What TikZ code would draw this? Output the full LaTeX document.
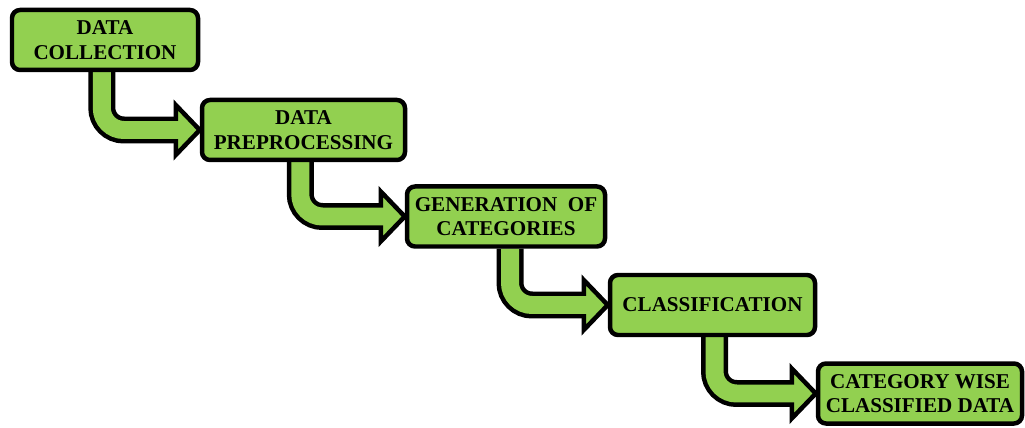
\documentclass[tikz,border=0pt]{standalone}
\usepackage{fontspec}
\setmainfont{Liberation Serif}
\usepackage{xcolor}
\usepackage{tikz}
\usetikzlibrary{positioning,calc,backgrounds}
\definecolor{leafgreen}{HTML}{92D050}

\begin{document}
\begin{tikzpicture}[
  stage/.style={draw=black, fill=leafgreen, line width=3.2pt, rounded corners=0.2cm,
    minimum height=1.5cm, align=center, inner sep=2pt,
    font=\fontsize{15}{17.5}\selectfont\bfseries},
  shaftout/.style={draw=black, line width=19.2pt, rounded corners=0.55cm},
  shaftin/.style={draw=leafgreen, line width=12.8pt, rounded corners=0.55cm},
  headtri/.style={draw=black, fill=leafgreen, line width=3.2pt}
]
\useasboundingbox (0,0) rectangle (25.625,10.675);

% stages
\node[stage, minimum width=4.65cm] (collect) at (2.625,9.675) {DATA\\COLLECTION};
\node[stage, minimum width=5.075cm] (prep) at (7.5875,7.425) {DATA\\PREPROCESSING};
\node[stage, minimum width=4.95cm] (gencat) at (12.65,5.2625) {GENERATION\ \ OF\\CATEGORIES};
\node[stage, minimum width=5.125cm] (classify) at (17.8125,3.05) {CLASSIFICATION};
\node[stage, minimum width=5.1cm] (result) at (23.0,0.8375) {CATEGORY WISE\\CLASSIFIED DATA};

% bent arrows between stages
\begin{scope}[on background layer]
% collection -> preprocessing
\draw[shaftout] ([xshift=-0.08cm]collect.south) |- ($(prep.west)+(-0.6,0)$);
\draw[headtri] ($(prep.west)+(-0.6,0.625)$) -- (prep.west) -- ($(prep.west)+(-0.6,-0.625)$) -- cycle;
\draw[shaftin] ([xshift=-0.08cm]collect.south) |- ($(prep.west)+(-0.45,0)$);

% preprocessing -> generation of categories
\draw[shaftout] ([xshift=-0.08cm]prep.south) |- ($(gencat.west)+(-0.6,0)$);
\draw[headtri] ($(gencat.west)+(-0.6,0.625)$) -- (gencat.west) -- ($(gencat.west)+(-0.6,-0.625)$) -- cycle;
\draw[shaftin] ([xshift=-0.08cm]prep.south) |- ($(gencat.west)+(-0.45,0)$);

% generation of categories -> classification
\draw[shaftout] ([xshift=0.1cm]gencat.south) |- ($(classify.west)+(-0.6,0)$);
\draw[headtri] ($(classify.west)+(-0.6,0.625)$) -- (classify.west) -- ($(classify.west)+(-0.6,-0.625)$) -- cycle;
\draw[shaftin] ([xshift=0.1cm]gencat.south) |- ($(classify.west)+(-0.45,0)$);

% classification -> result
\draw[shaftout] ([xshift=0.05cm]classify.south) |- ($(result.west)+(-0.6,0)$);
\draw[headtri] ($(result.west)+(-0.6,0.625)$) -- (result.west) -- ($(result.west)+(-0.6,-0.625)$) -- cycle;
\draw[shaftin] ([xshift=0.05cm]classify.south) |- ($(result.west)+(-0.45,0)$);
\end{scope}
\end{tikzpicture}
\end{document}
